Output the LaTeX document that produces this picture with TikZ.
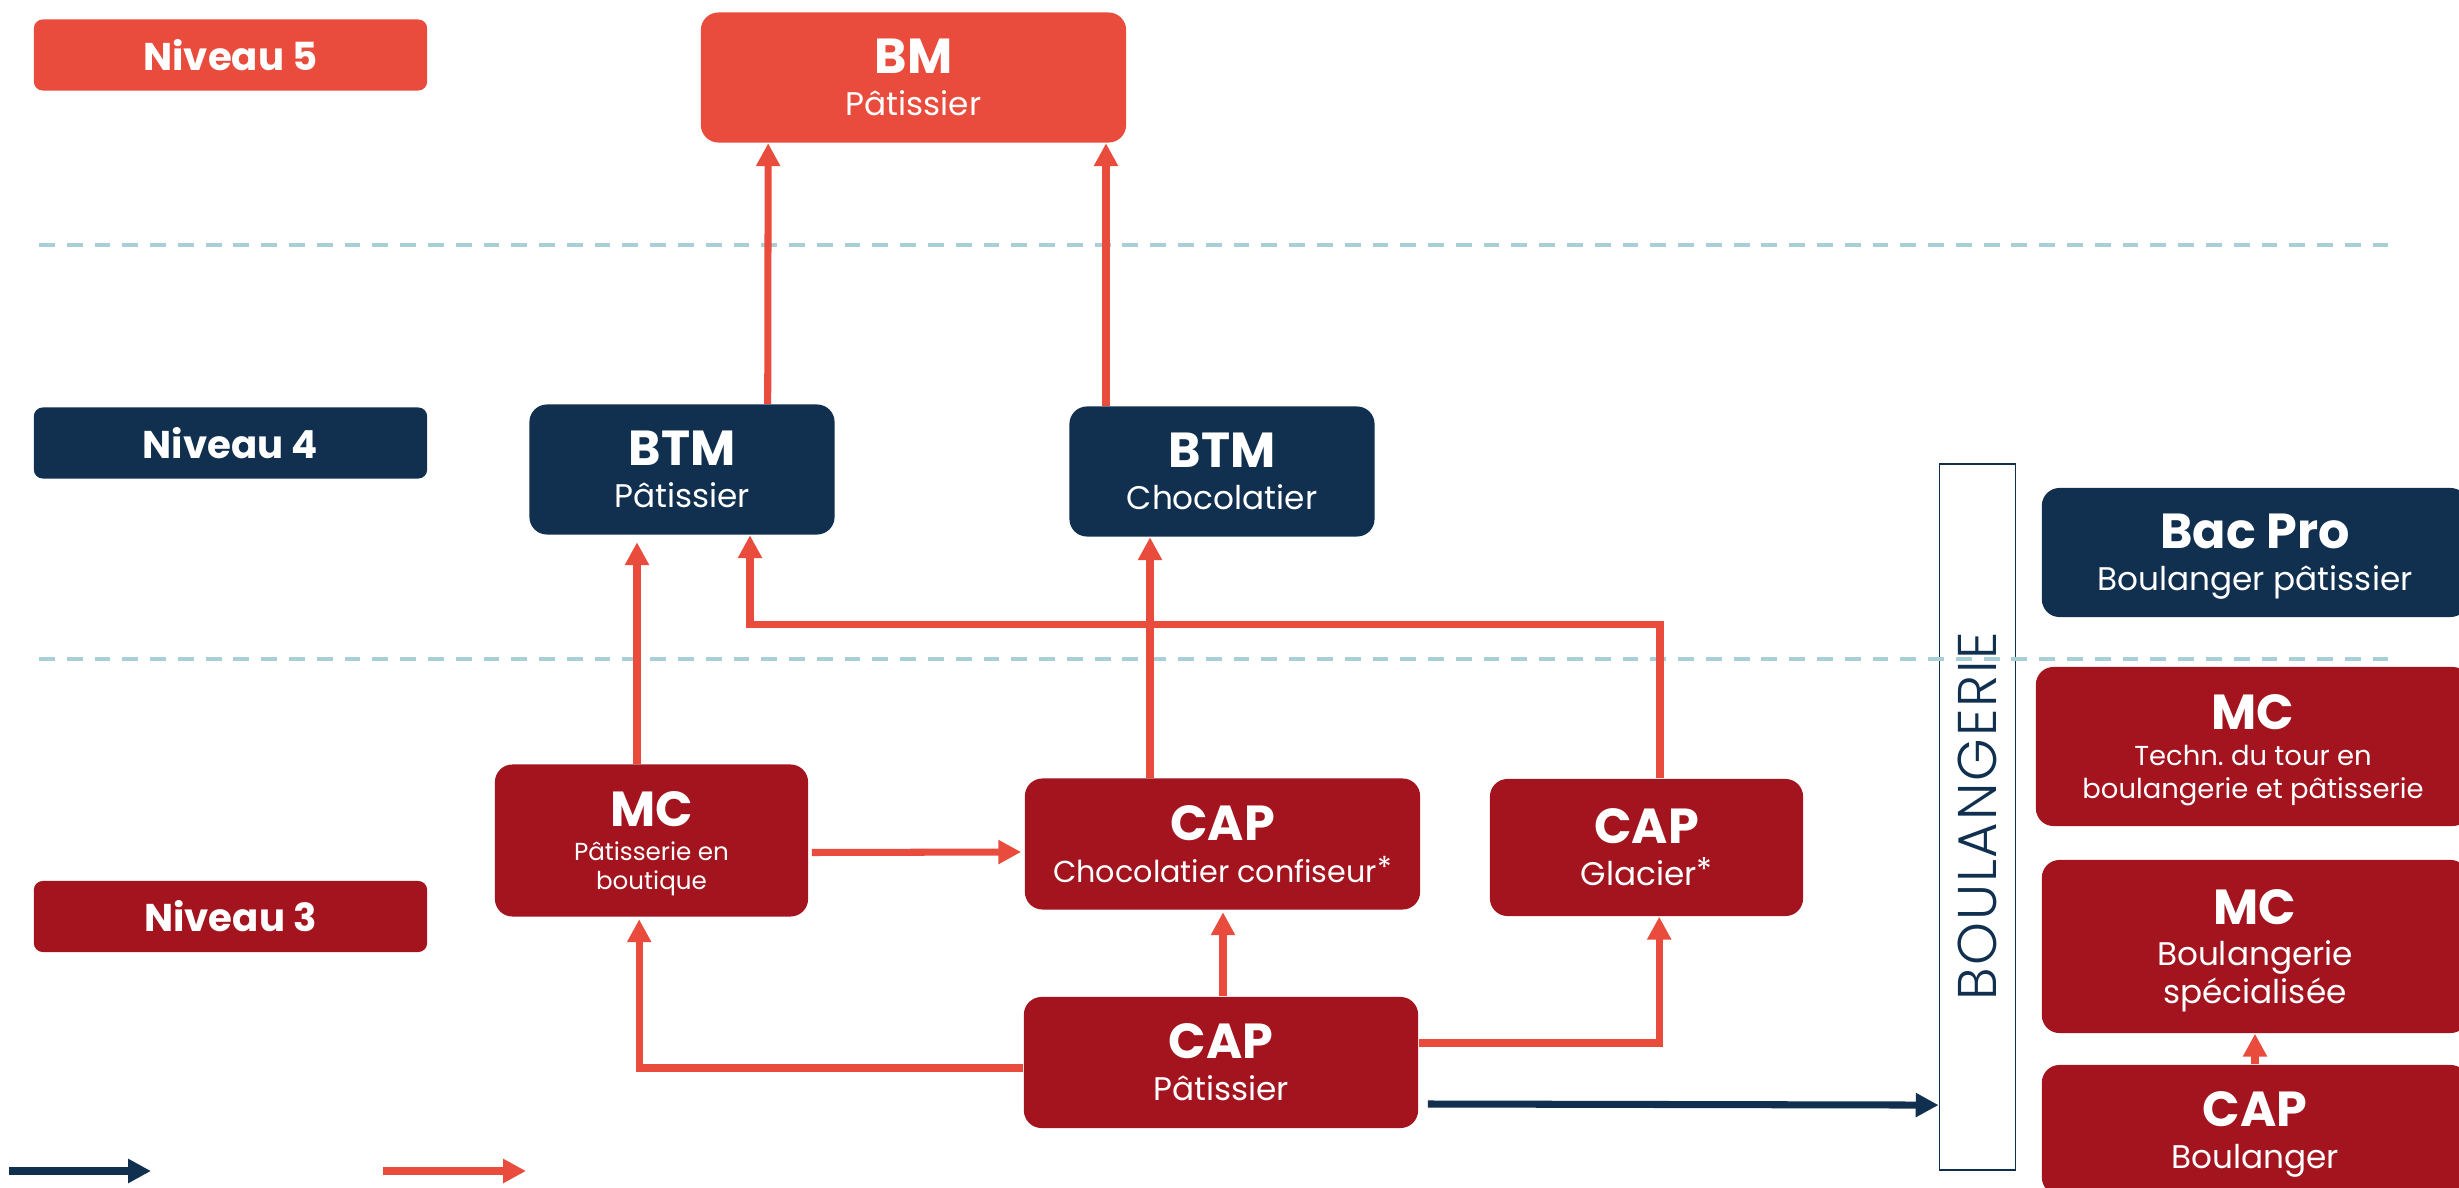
\documentclass[tikz,border=0pt]{standalone}
\usepackage{fontspec}
\setmainfont{Poppins}
\newfontfamily\lightfont{Poppins Light}[LetterSpace=3.5]
\usetikzlibrary{arrows.meta,calc}
\definecolor{lred}{HTML}{E94B3C}
\definecolor{dred}{HTML}{A3141F}
\definecolor{navy}{HTML}{11304F}
\definecolor{dashc}{HTML}{A9CFD6}
\newcommand\ttl[1]{{\bfseries\fontsize{14}{12}\selectfont #1}}
\newcommand\astk{\raisebox{1.2pt}{*}}
\newcommand\nodp[1]{\raisebox{0pt}[\height][0pt]{#1}}
\begin{document}
\begin{tikzpicture}[x=0.01cm,y=-0.01cm,
  box/.style={rectangle, rounded corners=5pt, inner sep=0pt, text=white, align=center, font=\fontsize{9.3}{12}\selectfont},
  lvl/.style={rectangle, rounded corners=2.5pt, inner sep=0pt, text=white, font=\bfseries\fontsize{11}{12}\selectfont, minimum width=3.93cm, minimum height=0.71cm},
  ra/.style={draw=lred, line width=2pt, -{Triangle[length=6.5pt,width=6.5pt]}},
  na/.style={draw=navy, line width=2pt, -{Triangle[length=6.5pt,width=6.5pt]}},
  lvline/.style={draw=dashc, line width=1.1pt, dash pattern=on 4.5pt off 3.4pt},
]
\useasboundingbox (0,0) rectangle (2459,1188);
\clip (0,0) rectangle (2459,1188);

% level labels
\node[lvl, fill=lred] (n5) at (230.5,55) {Niveau 5};
\node[lvl, fill=navy] (n4) at (230.5,443) {Niveau 4};
\node[lvl, fill=dred] (n3) at (230.5,916.5) {Niveau 3};

% boulangerie frame
\node[draw=navy, line width=0.5pt, minimum width=0.76cm, minimum height=7.06cm, inner sep=0pt] (boul) at (1977.5,817) {};
\node[rotate=90, text=navy, inner sep=0pt, font=\lightfont\fontsize{15.5}{16}\selectfont] (boultxt) at (1977.5,816) {BOULANGERIE};

% dashed level separators
\coordinate (d1a) at (39,245);
\coordinate (d1b) at (2396,245);
\coordinate (d2a) at (39,659);
\coordinate (d2b) at (2396,659);
\draw[lvline] (d1a) -- (d1b);
\draw[lvline] (d2a) -- (d2b);

% boxes
\node[box, fill=lred, minimum width=4.25cm, minimum height=1.30cm] (bm) at (913.5,77.5) {\ttl{BM}\\Pâtissier};
\node[box, fill=navy, minimum width=3.05cm, minimum height=1.30cm] (btmp) at (682,469.5) {\ttl{BTM}\\Pâtissier};
\node[box, fill=navy, minimum width=3.05cm, minimum height=1.30cm] (btmc) at (1222,471.5) {\ttl{BTM}\\Chocolatier};
\node[box, fill=navy, minimum width=4.26cm, minimum height=1.29cm] (bac) at (2255,552.5) {\ttl{Bac Pro}\\\nodp{Boulanger pâtissier}};
\node[box, fill=dred, minimum width=4.34cm, minimum height=1.59cm, font=\fontsize{7.8}{9.4}\selectfont] (mct) at (2253,746.5) {\ttl{MC}\\[0.8pt]Techn.\ du tour en\\\nodp{boulangerie et pâtisserie}};
\node[box, fill=dred, minimum width=4.26cm, minimum height=1.73cm, font=\fontsize{9.3}{10.8}\selectfont] (mcb) at (2255,946.5) {\ttl{MC}\\[0.9pt]Boulangerie\\\nodp{spécialisée}};
\node[box, fill=dred, minimum width=4.26cm, minimum height=1.30cm] (capb) at (2255,1130) {\ttl{CAP}\\\nodp{Boulanger}};
\node[box, fill=dred, minimum width=3.13cm, minimum height=1.52cm, font=\fontsize{7}{8.3}\selectfont] (mcp) at (651.5,840.5) {\ttl{MC}\\[1.4pt]Pâtisserie en\\\nodp{boutique}};
\node[box, fill=dred, minimum width=3.95cm, minimum height=1.31cm, font=\fontsize{8.6}{12}\selectfont] (capc) at (1222.5,844) {\ttl{CAP}\\Chocolatier confiseur\astk};
\node[box, fill=dred, minimum width=3.13cm, minimum height=1.37cm] (capg) at (1646.5,847.5) {\ttl{CAP}\\Glacier\astk};
\node[box, fill=dred, minimum width=3.94cm, minimum height=1.31cm] (capp) at (1221,1062.5) {\ttl{CAP}\\Pâtissier};

% connectors
\draw[ra] ($(btmp.north west)+(239,0)$) -- ($(bm.south west)+(68,0)$);
\draw[ra] ($(btmc.north)+(-116,0)$) -- ($(bm.south)+(192.5,0)$);
\draw[ra] ($(mcp.north)+(-14.5,0)$) -- ($(btmp.south)+(-45,7)$);
\draw[ra] ($(capg.north)+(13.5,0)$) |- ($(btmp.south)+(68,89)$) -- ($(btmp.south)+(68,0)$);
\draw[ra] ($(capc.north)+(-72.5,0)$) -- ($(btmc.south)+(-72,0)$);
\draw[ra] ($(mcp.east)+(3,12)$) -- ($(capc.west)+(-3,8)$);
\draw[ra] ($(capp.north)+(2,0)$) -- ($(capc.south)+(0.5,2)$);
\draw[ra] ($(capp.west)+(0,5.5)$) -| ($(mcp.south west)+(145,2)$);
\draw[ra] ($(capp.east)+(0,-19.5)$) -| ($(capg.south west)+(170,0)$);
\draw[na] ($(capp.east)+(9,41.5)$) -- ($(boul.south west)+(0,-66)$);
\draw[ra] (capb.north) -- (mcb.south);

% legend
\coordinate (l1s) at (9,1171);
\coordinate (l1e) at (151,1171);
\coordinate (l2s) at (383,1171);
\coordinate (l2e) at (526,1171);
\draw[na] (l1s) -- (l1e);
\draw[ra] (l2s) -- (l2e);
\end{tikzpicture}
\end{document}
